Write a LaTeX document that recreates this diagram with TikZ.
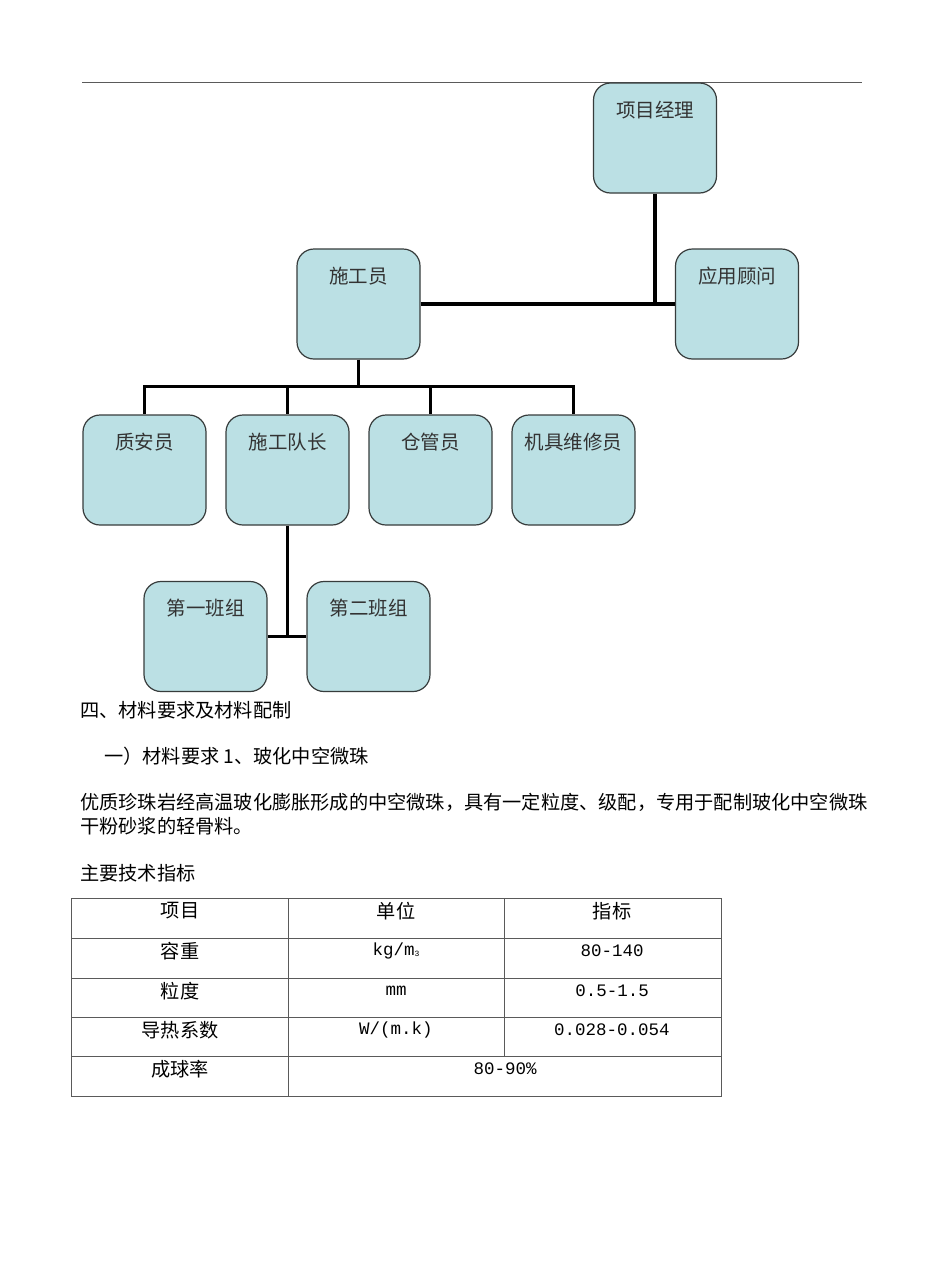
\documentclass[tikz,border=0pt]{standalone}
\usepackage{fontspec}
\setmainfont{Liberation Serif}
\newfontfamily\cjk{Noto Sans CJK SC}
\newfontfamily\monofnt{Liberation Mono}
\definecolor{boxfill}{RGB}{187,224,228}
\definecolor{boxline}{RGB}{55,60,60}
\definecolor{rulegray}{RGB}{90,90,90}
\tikzset{
  orgbox/.style={draw=boxline, fill=boxfill, rounded corners=17pt, line width=1.2pt,
    minimum width=123pt, inner sep=0pt, text height=34pt, text depth=76pt,
    font=\cjk\fontsize{19.5}{21}\selectfont, text=black!80},
  conn/.style={line width=3.3pt, black},
  body/.style={anchor=west, inner sep=0pt, font=\cjk\fontsize{19.2}{22}\selectfont},
  cell/.style={inner sep=0pt, font=\cjk\fontsize{19.2}{22}\selectfont},
  num/.style={inner sep=0pt, font=\monofnt\fontsize{17.5}{20}\selectfont},
  tline/.style={draw=rulegray, line width=0.8pt}
}
\begin{document}
\begin{tikzpicture}[x=1pt,y=-1pt]
\useasboundingbox (0,0) rectangle (950,1282);
\fill[white] (0,0) rectangle (950,1282);
% top rule
\draw[rulegray, line width=0.9pt] (82,82) -- (862,82);

% org chart boxes
\node[orgbox] (pm) at (655,138) {项目经理};
\node[orgbox] (gw) at (737,304) {应用顾问};
\node[orgbox] (sg) at (358.5,304) {施工员};
\node[orgbox] (za) at (144.5,470) {质安员};
\node[orgbox] (dz) at (287.5,470) {施工队长};
\node[orgbox] (cg) at (430.5,470) {仓管员};
\node[orgbox] (jj) at (573.5,470) {机具维修员};
\node[orgbox] (b1) at (205.5,636.5) {第一班组};
\node[orgbox] (b2) at (368.5,636.5) {第二班组};

% connectors
\draw[conn] (sg.east) -- (gw.west);
\draw[conn] (pm.south) -- (pm.south |- sg.east);
\coordinate (bus) at ([yshift=-27pt]sg.south);
\draw[conn] (sg.south) -- (bus);
\draw[conn, line cap=rect] (za.north |- bus) -- (jj.north |- bus);
\draw[conn] (za.north |- bus) -- (za.north);
\draw[conn] (dz.north |- bus) -- (dz.north);
\draw[conn] (cg.north |- bus) -- (cg.north);
\draw[conn] (jj.north |- bus) -- (jj.north);
\draw[conn] (dz.south) -- (dz.south |- b1.east);
\draw[conn] (b1.east) -- (b2.west);

% body text
\node[body] (t1) at (80,710) {四、材料要求及材料配制};
\node[body] (t2) at (104,756) {一）材料要求 1、玻化中空微珠};
\node[body] (t3) at (80,802) {优质珍珠岩经高温玻化膨胀形成的中空微珠，具有一定粒度、级配，专用于配制玻化中空微珠};
\node[body] (t4) at (80,826) {干粉砂浆的轻骨料。};
\node[body] (t5) at (80,873) {主要技术指标};

% table grid
\draw[tline] (71,898) rectangle (721,1096);
\foreach \yy in {938,978,1017,1056} \draw[tline] (71,\yy) -- (721,\yy);
\draw[tline] (288,898) -- (288,1096);
\draw[tline] (504,898) -- (504,1056);

% table text
\node[cell] (h1) at (180,911) {项目};
\node[cell] (h2) at (396,911) {单位};
\node[cell] (h3) at (612,911) {指标};
\node[cell] (r1a) at (180,951) {容重};
\node[num] (r1b) at (396,951) {kg/m\raisebox{-0.5pt}{\fontsize{8}{8}\selectfont 3}};
\node[num] (r1c) at (612,951) {80-140};
\node[cell] (r2a) at (180,991) {粒度};
\node[num] (r2b) at (396,991) {mm};
\node[num] (r2c) at (612,991) {0.5-1.5};
\node[cell] (r3a) at (180,1030) {导热系数};
\node[num] (r3b) at (396,1030) {W/(m.k)};
\node[num] (r3c) at (612,1030) {0.028-0.054};
\node[cell] (r4a) at (180,1069) {成球率};
\node[num] (r4b) at (505,1069) {80-90\%};
\end{tikzpicture}
\end{document}
